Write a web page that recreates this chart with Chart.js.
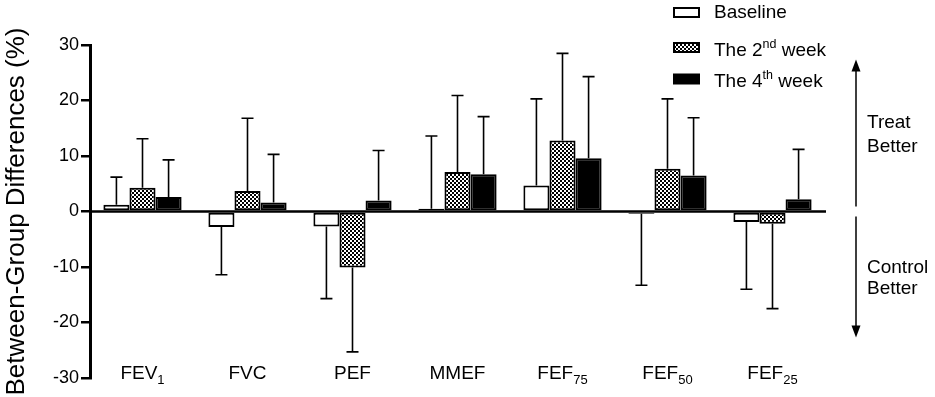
<!DOCTYPE html>
<html>
<head>
<meta charset="utf-8">
<script src="https://cdn.jsdelivr.net/npm/chart.js@4"></script>
<style>
    html, body { margin: 0; padding: 0; background: #fff; }
</style>
</head>
<body>
<canvas id="myChart" width="935" height="397"></canvas>
<script>
// categories (main text + subscript)
const categories = ['FEV', 'FVC', 'PEF', 'MMEF', 'FEF', 'FEF', 'FEF'];
const subscripts = ['1', '', '', '', '75', '50', '25'];

// bar values (%)
const baseline = [1.2, -2.8, -2.7, 0.5, 4.7, -0.4, -1.9];
const week2 = [4.3, 3.7, -10.1, 7.1, 12.8, 7.7, -2.2];
const week4 = [2.6, 1.6, 2.0, 6.7, 9.6, 6.5, 2.2];

// where each error bar ends (%)
const baselineErr = [6.2, -11.4, -15.7, 13.6, 20.3, -13.3, -14.0];
const week2Err = [13.1, 16.8, -25.3, 20.9, 28.5, 20.3, -17.5];
const week4Err = [9.3, 10.3, 11.0, 17.1, 24.3, 16.9, 11.2];

const yTicks = [-30, -20, -10, 0, 10, 20, 30];
const legendLabels = [['Baseline', '', ''], ['The 2', 'nd', ' week'], ['The 4', 'th', ' week']];
const treatText = ['Treat', 'Better'];
const controlText = ['Control', 'Better'];

const FONT = '"Liberation Sans", Arial, sans-serif';

// checkered fill for the 2nd week bars
let patCanvas = document.createElement('canvas');
patCanvas.width = 4;
patCanvas.height = 4;
let pctx = patCanvas.getContext('2d');
pctx.fillStyle = '#fff';
pctx.fillRect(0, 0, 4, 4);
pctx.fillStyle = '#000';
pctx.fillRect(0, 0, 2, 2);
pctx.fillRect(2, 2, 2, 2);
let ctx = document.getElementById('myChart');
const checker = ctx.getContext('2d').createPattern(patCanvas, 'repeat');

const fills = ['#ffffff', checker, '#000000'];
const errEnds = [baselineErr, week2Err, week4Err];

const extras = {
    id: 'extras',
    afterDatasetsDraw(chart) {
        let c = chart.ctx;
        let y = chart.scales.y;
        let x = chart.scales.x;
        let area = chart.chartArea;
        c.save();
        c.strokeStyle = '#000';
        c.fillStyle = '#000';

        // error bars
        c.lineWidth = 1.6;
        for (let i = 0; i < 3; i++) {
            let meta = chart.getDatasetMeta(i);
            meta.data.forEach((bar, j) => {
                let yEnd = y.getPixelForValue(errEnds[i][j]);
                c.beginPath();
                c.moveTo(bar.x, bar.y);
                c.lineTo(bar.x, yEnd);
                c.moveTo(bar.x - 6, yEnd);
                c.lineTo(bar.x + 6, yEnd);
                c.stroke();
            });
        }

        // zero line
        let y0 = y.getPixelForValue(0);
        c.lineWidth = 2.5;
        c.beginPath();
        c.moveTo(area.left, y0);
        c.lineTo(area.right + 1, y0);
        c.stroke();

        // category labels with subscripts
        c.textBaseline = 'alphabetic';
        c.textAlign = 'left';
        categories.forEach((name, j) => {
            c.font = '19px ' + FONT;
            let w1 = c.measureText(name).width;
            c.font = '13px ' + FONT;
            let w2 = subscripts[j] ? c.measureText(subscripts[j]).width : 0;
            let cx = x.getPixelForValue(j);
            let sx = cx - (w1 + w2) / 2;
            c.font = '19px ' + FONT;
            c.fillText(name, sx, 379);
            if (subscripts[j]) {
                c.font = '13px ' + FONT;
                c.fillText(subscripts[j], sx + w1, 384);
            }
        });

        // legend
        let legY = [12.5, 47.5, 79];
        let legBase = [17.5, 56, 87];
        legendLabels.forEach((parts, i) => {
            c.fillStyle = fills[i];
            c.fillRect(674, legY[i] - 4.5, 25, 9);
            c.lineWidth = 2;
            c.strokeRect(674, legY[i] - 4.5, 25, 9);
            c.fillStyle = '#000';
            let tx = 714;
            let base = legBase[i];
            c.font = '19px ' + FONT;
            c.fillText(parts[0], tx, base);
            tx += c.measureText(parts[0]).width;
            if (parts[1]) {
                c.font = '12.5px ' + FONT;
                c.fillText(parts[1], tx, base - 8);
                tx += c.measureText(parts[1]).width;
                c.font = '19px ' + FONT;
                c.fillText(parts[2], tx, base);
            }
        });

        // direction arrows
        let ax = area.right + 31;
        let topTip = y.getPixelForValue(27.4);
        let botTip = y.getPixelForValue(-22.7);
        c.lineWidth = 1.5;
        c.beginPath();
        c.moveTo(ax, y0 - 5);
        c.lineTo(ax, topTip + 10);
        c.moveTo(ax, y0 + 5);
        c.lineTo(ax, botTip - 10);
        c.stroke();
        c.beginPath();
        c.moveTo(ax, topTip);
        c.lineTo(ax - 4.5, topTip + 12);
        c.lineTo(ax + 4.5, topTip + 12);
        c.closePath();
        c.fill();
        c.beginPath();
        c.moveTo(ax, botTip);
        c.lineTo(ax - 4.5, botTip - 12);
        c.lineTo(ax + 4.5, botTip - 12);
        c.closePath();
        c.fill();

        c.font = '19px ' + FONT;
        c.fillText(treatText[0], 867, 128);
        c.fillText(treatText[1], 867, 152);
        c.fillText(controlText[0], 867, 273);
        c.fillText(controlText[1], 867, 294);
        c.restore();
    }
};

new Chart(ctx, {
    type: 'bar',
    data: {
        labels: categories.map((n, i) => n + subscripts[i]),
        datasets: [
            { label: 'Baseline', data: baseline, backgroundColor: fills[0] },
            { label: 'The 2nd week', data: week2, backgroundColor: fills[1] },
            { label: 'The 4th week', data: week4, backgroundColor: fills[2] }
        ].map(d => Object.assign(d, {
            borderColor: '#000',
            borderWidth: 2,
            borderSkipped: false,
            barPercentage: 1,
            categoryPercentage: 0.745
        }))
    },
    options: {
        responsive: false,
        animation: false,
        layout: { padding: { top: 45, right: 110, bottom: 19, left: 0 } },
        plugins: {
            legend: { display: false },
            tooltip: { enabled: false }
        },
        scales: {
            x: {
                display: false,
                offset: true
            },
            y: {
                min: -30,
                max: 30,
                afterBuildTicks: (scale) => {
                    scale.ticks = yTicks.map(v => ({ value: v }));
                },
                afterFit: (scale) => {
                    scale.width = 90;
                },
                border: { display: true, color: '#000', width: 3 },
                grid: {
                    drawOnChartArea: false,
                    drawTicks: true,
                    tickLength: 9,
                    color: '#000',
                    lineWidth: 2.5
                },
                ticks: {
                    color: '#000',
                    padding: 2,
                    font: { family: FONT, size: 18 }
                },
                title: {
                    display: true,
                    text: 'Between-Group Differences (%)',
                    color: '#000',
                    padding: { top: 1, bottom: 0 },
                    font: { family: FONT, size: 26 }
                }
            }
        }
    },
    plugins: [extras]
});
</script>
</body>
</html>
